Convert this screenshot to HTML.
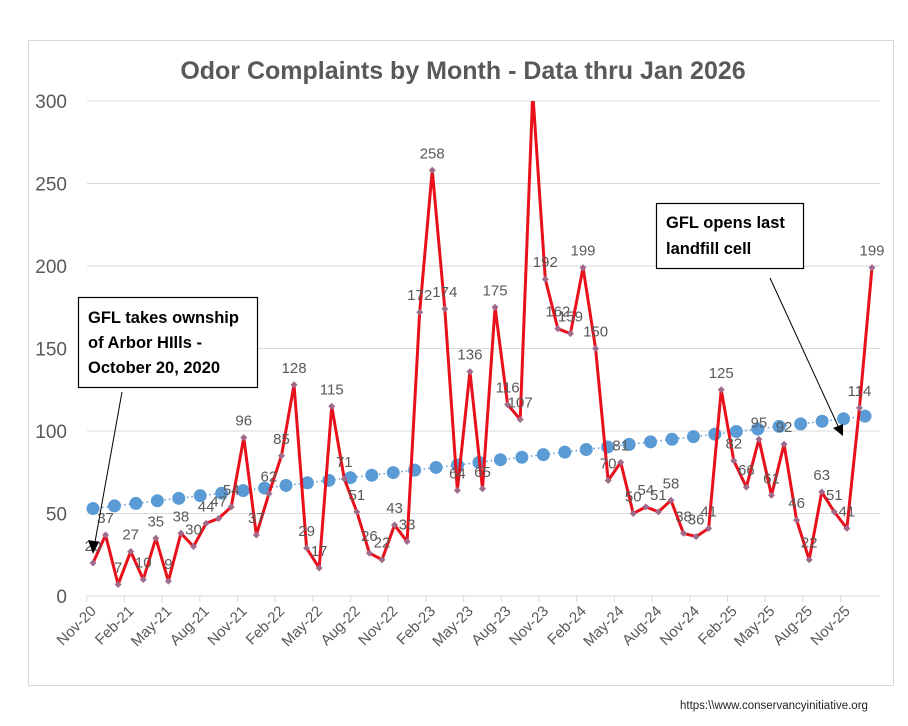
<!DOCTYPE html>
<html><head><meta charset="utf-8"><style>
body{margin:0;background:#fff;font-family:"Liberation Sans",sans-serif;}
svg text{font-family:"Liberation Sans",sans-serif;}
</style></head><body>
<svg id="chart" width="908" height="721" viewBox="0 0 908 721">
<rect x="0" y="0" width="908" height="721" fill="#fff"/>
<rect x="28.5" y="40.5" width="865" height="645" fill="none" stroke="#d9d9d9"/>
<text x="463" y="79" text-anchor="middle" font-size="25" font-weight="bold" fill="#595959">Odor Complaints by Month - Data thru Jan 2026</text>
<g id="grid"></g>
<g id="xaxis"></g>
<defs><clipPath id="plotclip"><rect x="60" y="101" width="830" height="520"/></clipPath></defs>
<g id="trend"></g>
<g id="series" clip-path="url(#plotclip)"></g>
<g id="markers"></g>
<g id="labels"></g>
<g>
<rect x="78.5" y="297.5" width="179" height="90" fill="#fff" stroke="#000" stroke-width="1.2"/>
<text x="88" y="323" font-size="16.5" font-weight="bold" fill="#000">GFL takes ownship</text>
<text x="88" y="348" font-size="16.5" font-weight="bold" fill="#000">of Arbor HIlls -</text>
<text x="88" y="373" font-size="16.5" font-weight="bold" fill="#000">October 20, 2020</text>
<line x1="122" y1="392" x2="95" y2="542" stroke="#000" stroke-width="1"/>
<polygon points="93,554 88,540 99,542" fill="#000"/>
</g>
<g>
<rect x="656.5" y="203.5" width="147" height="65" fill="#fff" stroke="#000" stroke-width="1.2"/>
<text x="666" y="228" font-size="16.5" font-weight="bold" fill="#000">GFL opens last</text>
<text x="666" y="254" font-size="16.5" font-weight="bold" fill="#000">landfill cell</text>
<line x1="770" y1="278" x2="838" y2="426" stroke="#000" stroke-width="1"/>
<polygon points="843,436 833,428 843,424" fill="#000"/>
</g>
<text x="680" y="709" font-size="11.5" fill="#222">https:\\www.conservancyinitiative.org</text>
</svg>
<script>
const months = ["Nov-20","Dec-20","Jan-21","Feb-21","Mar-21","Apr-21","May-21","Jun-21","Jul-21","Aug-21","Sep-21","Oct-21","Nov-21","Dec-21","Jan-22","Feb-22","Mar-22","Apr-22","May-22","Jun-22","Jul-22","Aug-22","Sep-22","Oct-22","Nov-22","Dec-22","Jan-23","Feb-23","Mar-23","Apr-23","May-23","Jun-23","Jul-23","Aug-23","Sep-23","Oct-23","Nov-23","Dec-23","Jan-24","Feb-24","Mar-24","Apr-24","May-24","Jun-24","Jul-24","Aug-24","Sep-24","Oct-24","Nov-24","Dec-24","Jan-25","Feb-25","Mar-25","Apr-25","May-25","Jun-25","Jul-25","Aug-25","Sep-25","Oct-25","Nov-25","Dec-25","Jan-26"];
const complaints = [20,37,7,27,10,35,9,38,30,44,47,54,96,37,62,85,128,29,17,115,71,51,26,22,43,33,172,258,174,64,136,65,175,116,107,305,192,162,159,199,150,70,81,50,54,51,58,38,36,41,125,82,66,95,61,92,46,22,63,51,41,114,199];
const trendValues = [53,54.6,56.1,57.7,59.2,60.8,62.3,63.9,65.4,67,68.6,70.1,71.7,73.2,74.8,76.3,77.9,79.4,81,82.6,84.1,85.7,87.2,88.8,90.3,91.9,93.4,95,96.6,98.1,99.7,101.2,102.8,104.3,105.9,107.4,109];
const yTicks = [0,50,100,150,200,250,300];

const NS="http://www.w3.org/2000/svg";
const X0=93, X1=872, Y0=596, Y300=101;
const xs=i=>X0+(X1-X0)*i/(months.length-1);
const ys=v=>Y0-(Y0-Y300)*v/300;
const xt=i=>X0+(865-X0)*i/(trendValues.length-1);
function mk(tag,attrs,parent){const e=document.createElementNS(NS,tag);for(const k in attrs)e.setAttribute(k,attrs[k]);parent.appendChild(e);return e;}
const grid=document.getElementById('grid');
yTicks.forEach(t=>{
  if(t>0){const l=mk('line',{x1:87,x2:880,y1:ys(t),y2:ys(t),stroke:'#d9d9d9','stroke-width':1},grid);
  
  }
  const tx=mk('text',{x:67,y:ys(t)+7,'text-anchor':'end','font-size':19,fill:'#595959'},grid);
  tx.textContent=t;
  
  
});
const xa=document.getElementById('xaxis');
const ax=mk('line',{x1:87,x2:880,y1:Y0,y2:Y0,stroke:'#d9d9d9','stroke-width':1},xa);


const step=(X1-X0)/(months.length-1);
for(let i=0;i<months.length;i+=3){
  const bx=xs(i)-step/2;
  mk('line',{x1:bx,x2:bx,y1:Y0,y2:Y0+6,stroke:'#d9d9d9'},xa);
  const tx=mk('text',{x:xs(i)+4,y:Y0+16,'text-anchor':'end','font-size':15,fill:'#595959',transform:`rotate(-45 ${xs(i)+4} ${Y0+16})`},xa);
  tx.textContent=months[i];
  
  
}
const tr=document.getElementById('trend');
const tl=mk('polyline',{points:trendValues.map((v,i)=>xt(i)+','+ys(v)).join(' '),fill:'none',stroke:'#5b9bd5','stroke-width':1.5,'stroke-dasharray':'1.5 3'},tr);


trendValues.forEach((v,i)=>{
  const c=mk('circle',{cx:xt(i),cy:ys(v),r:6.5,fill:'#5b9bd5'},tr);
  
  
});
const sr=document.getElementById('series');
const pl=mk('polyline',{points:complaints.map((v,i)=>xs(i)+','+ys(v)).join(' '),fill:'none',stroke:'#e8101a','stroke-width':3,'stroke-linejoin':'round'},sr);


const mg=document.getElementById('markers');
const lg=document.getElementById('labels');
complaints.forEach((v,i)=>{
  if(v<=300){
    const x=xs(i),y=ys(v);
    const d=mk('polygon',{points:`${x},${y-3.5} ${x+3.5},${y} ${x},${y+3.5} ${x-3.5},${y}`,fill:'#a06a8a'},mg);
    
    
    const t=mk('text',{x:x,y:y-12,'text-anchor':'middle','font-size':15,fill:'#595959'},lg);
    t.textContent=v;
    
    
  }
});
</script>
</body></html>
